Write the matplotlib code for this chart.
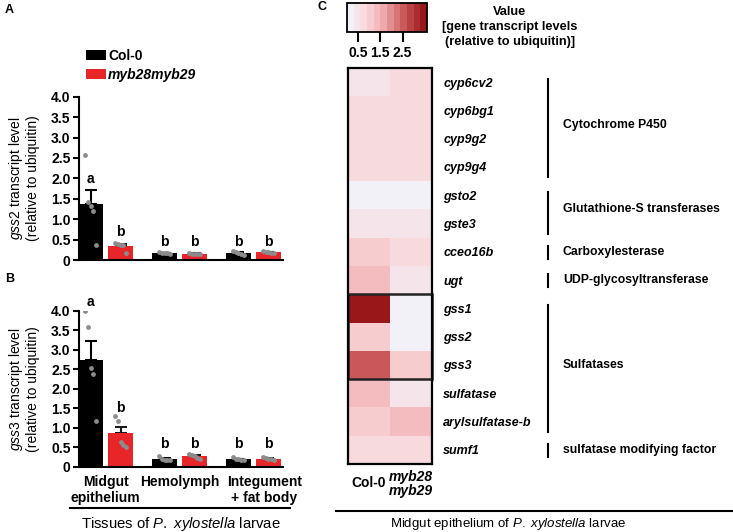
import numpy as np
import matplotlib
matplotlib.use('Agg')
import matplotlib.pyplot as plt
import matplotlib.transforms as mtransforms
from matplotlib.colors import LinearSegmentedColormap, ListedColormap
from matplotlib.lines import Line2D

plt.rcParams['font.family'] = ['Liberation Sans', 'DejaVu Sans']
plt.rcParams['mathtext.fontset'] = 'custom'
plt.rcParams['mathtext.rm'] = 'Liberation Sans'
plt.rcParams['mathtext.it'] = 'Liberation Sans:italic'
plt.rcParams['mathtext.bf'] = 'Liberation Sans:bold'

#%% data for panels A and B (bar charts)
tissues = ['Midgut\nepithelium', 'Hemolymph', 'Integument\n+ fat body']

gss2_col = [1.38, 0.17, 0.17]
gss2_myb = [0.34, 0.15, 0.19]
gss2_col_err = [0.34, 0.01, 0.02]
gss2_myb_err = [0.05, 0.01, 0.01]
gss2_col_pts = [[2.58, 1.42, 1.33, 1.19, 0.37], [0.19, 0.18, 0.17, 0.16, 0.15], [0.22, 0.19, 0.16, 0.15, 0.12]]
gss2_myb_pts = [[0.42, 0.38, 0.37, 0.36, 0.16], [0.16, 0.15, 0.15, 0.14, 0.15], [0.22, 0.20, 0.19, 0.18, 0.17]]
gss2_col_letters = ['a', 'b', 'b']
gss2_myb_letters = ['b', 'b', 'b']
gss2_col_letter_y = [1.98, 0.43, 0.43]
gss2_myb_letter_y = [0.69, 0.43, 0.43]

gss3_col = [2.74, 0.20, 0.20]
gss3_myb = [0.86, 0.27, 0.21]
gss3_col_err = [0.48, 0.02, 0.01]
gss3_myb_err = [0.15, 0.02, 0.01]
gss3_col_pts = [[3.99, 3.57, 2.54, 2.37, 1.18], [0.28, 0.20, 0.18, 0.16, 0.16], [0.24, 0.21, 0.19, 0.18, 0.18]]
gss3_myb_pts = [[1.30, 1.17, 0.64, 0.56, 0.51], [0.33, 0.31, 0.28, 0.23, 0.20], [0.25, 0.23, 0.21, 0.19, 0.18]]
gss3_col_letters = ['a', 'b', 'b']
gss3_myb_letters = ['b', 'b', 'b']
gss3_col_letter_y = [4.23, 0.58, 0.58]
gss3_myb_letter_y = [1.51, 0.58, 0.58]

#%% data for panel C (heatmap)
genes = ['cyp6cv2', 'cyp6bg1', 'cyp9g2', 'cyp9g4', 'gsto2', 'gste3', 'cceo16b', 'ugt',
         'gss1', 'gss2', 'gss3', 'sulfatase', 'arylsulfatase-b', 'sumf1']
heat_col = [0.5, 0.85, 0.85, 0.85, 0.05, 0.35, 1.1, 1.45, 3.5, 1.0, 2.6, 1.4, 1.05, 0.8]
heat_myb = [0.85, 0.85, 0.85, 0.85, 0.05, 0.35, 0.85, 0.4, 0.05, 0.05, 0.9, 0.4, 1.35, 0.8]
heat_cols = ['Col-0', 'myb28\nmyb29']
groups = [(0, 3, 'Cytochrome P450'), (4, 5, 'Glutathione-S transferases'),
          (6, 6, 'Carboxylesterase'), (7, 7, 'UDP-glycosyltransferase'),
          (8, 12, 'Sulfatases'), (13, 13, 'sulfatase modifying factor')]

W, H = 733, 532
fig = plt.figure(figsize=(W / 100, H / 100), dpi=100)


def px(x0, y0, x1, y1):
    # pixel box (top-left origin) -> figure fraction rect
    return [x0 / W, 1 - y1 / H, (x1 - x0) / W, (y1 - y0) / H]


def bar_panel(ax, col, myb, col_err, myb_err, col_pts, myb_pts,
              col_let, myb_let, col_ly, myb_ly, gene):
    x = np.arange(len(col))
    off, w = 0.2027, 0.338
    bc = ax.bar(x - off, col, w, color='black', label='Col-0', zorder=2)
    bm = ax.bar(x + off, myb, w, color='#e8262a', label='myb28myb29', zorder=2)
    ax.errorbar(x - off, col, yerr=[np.zeros(len(col)), col_err], fmt='none',
                ecolor='black', elinewidth=1.5, capsize=4.5, capthick=1.5, zorder=1)
    ax.errorbar(x + off, myb, yerr=[np.zeros(len(myb)), myb_err], fmt='none',
                ecolor='#1a1a1a', elinewidth=1.5, capsize=4.5, capthick=1.5, zorder=1)
    for i in range(len(col)):
        for xc, pts in ((x[i] - off, col_pts[i]), (x[i] + off, myb_pts[i])):
            jit = np.linspace(-0.07, 0.07, len(pts))
            ax.scatter(xc + jit, pts, s=12, color='#8c8c8c', linewidths=0, zorder=3)
        ax.text(x[i] - off, col_ly[i], col_let[i], ha='center', va='center',
                fontsize=10, fontweight='bold', clip_on=False)
        ax.text(x[i] + off, myb_ly[i], myb_let[i], ha='center', va='center',
                fontsize=10, fontweight='bold', clip_on=False)
    ax.set_xlim(-0.36, 2.40)
    ax.set_ylim(0, 4.0)
    ticks = np.arange(0, 4.01, 0.5)
    ax.set_yticks(ticks)
    ax.set_yticklabels(['0'] + ['%.1f' % t for t in ticks[1:]], fontweight='bold', fontsize=10)
    ax.set_xticks(x)
    for s in ['top', 'right']:
        ax.spines[s].set_visible(False)
    for s in ['left', 'bottom']:
        ax.spines[s].set_linewidth(1.5)
    ax.tick_params(axis='y', length=4, width=1.5, pad=2)
    ax.tick_params(axis='x', length=0, pad=6)
    ax.set_ylabel('$\\it{%s}$ transcript level\n(relative to ubiquitin)' % gene, fontsize=10,
                  linespacing=1.1)
    ax.yaxis.set_label_coords(-0.19, 0.5)
    return bc, bm


#%% panel A
axA = fig.add_axes(px(79, 96.7, 283, 260))
bc, bm = bar_panel(axA, gss2_col, gss2_myb, gss2_col_err, gss2_myb_err, gss2_col_pts, gss2_myb_pts,
                   gss2_col_letters, gss2_myb_letters, gss2_col_letter_y, gss2_myb_letter_y, 'gss2')
axA.set_xticklabels([])
leg = axA.legend(handles=[bc, bm], loc='upper left', bbox_to_anchor=(86 / W, 1 - 49 / H),
                 bbox_transform=fig.transFigure, frameon=False,
                 prop={'weight': 'bold', 'size': 10}, handlelength=1.45, handleheight=0.75,
                 handletextpad=0.15, labelspacing=0.35, borderaxespad=0, borderpad=0)
leg.get_texts()[1].set_style('italic')

#%% panel B
axB = fig.add_axes(px(79, 310.7, 283, 466.7))
bar_panel(axB, gss3_col, gss3_myb, gss3_col_err, gss3_myb_err, gss3_col_pts, gss3_myb_pts,
          gss3_col_letters, gss3_myb_letters, gss3_col_letter_y, gss3_myb_letter_y, 'gss3')
axB.set_xticklabels(tissues, fontweight='bold', fontsize=10, linespacing=1.15)
# last tissue label sits a little right of its bars in the original
lab = axB.get_xticklabels()[2]
lab.set_transform(lab.get_transform() + mtransforms.ScaledTranslation(11 / 100, 0, fig.dpi_scale_trans))

fig.add_artist(Line2D([70 / W, 290 / W], [1 - 508 / H, 1 - 508 / H], color='black', lw=1.5))
fig.text(181 / W, 1 - 524 / H, 'Tissues of $\\it{P.\\ xylostella}$ larvae', ha='center', va='center',
         fontsize=10.7)

#%% panel C heatmap
base = LinearSegmentedColormap.from_list('reds', [(0, '#f3f1f8'), (0.2, '#f8d8dc'), (0.42, '#f3b3b6'),
                                                  (0.72, '#cc5b5e'), (1, '#991619')])
cmap = ListedColormap(base(np.linspace(0, 1, 12)))

axC = fig.add_axes(px(347.5, 68, 432, 464))
M = np.column_stack([heat_col, heat_myb])
im = axC.imshow(M, cmap=cmap, vmin=0, vmax=3.6, aspect='auto', interpolation='nearest')
for s in axC.spines.values():
    s.set_linewidth(1.6)
axC.yaxis.tick_right()
axC.set_yticks(range(len(genes)))
axC.set_yticklabels(genes, fontstyle='italic', fontweight='bold', fontsize=9)
axC.set_xticks(range(2))
axC.set_xticklabels(heat_cols, fontweight='bold', fontsize=10, linespacing=1.0)
axC.get_xticklabels()[1].set_style('italic')
axC.get_xticklabels()[0].set_va('center')
axC.get_xticklabels()[0].set_y(-0.035)
axC.tick_params(axis='y', length=0, pad=8)
axC.tick_params(axis='x', length=0, pad=4)
axC.add_patch(plt.Rectangle((-0.5, 7.5), 2, 3, fill=False, lw=1.8, edgecolor='#222222', clip_on=False))

trans = mtransforms.blended_transform_factory(axC.transAxes, axC.transData)
for first, last, name in groups:
    if first == last:
        y0, y1 = first - 0.2, first + 0.25
    else:
        y0, y1 = first - 0.12, last + 0.36
    axC.plot([2.373, 2.373], [y0, y1], color='black', lw=1.5, transform=trans, clip_on=False)
    axC.text(2.55, (first + last) / 2, name, transform=trans, ha='left', va='center',
             fontsize=8.8, fontweight='bold')

# colorbar
cax = fig.add_axes(px(347, 3, 427, 32))
cb = fig.colorbar(im, cax=cax, orientation='horizontal', ticks=[0.5, 1.5, 2.5])
cb.outline.set_linewidth(1.3)
cax.tick_params(length=7, width=1.5, pad=3)
cax.set_xticklabels(['0.5', '1.5', '2.5'], fontweight='bold', fontsize=10)
fig.text(510 / W, 1 - 27 / H, 'Value\n[gene transcript levels\n(relative to ubiquitin)]',
         ha='center', va='center', fontsize=9.2, fontweight='bold', linespacing=1.3)

fig.add_artist(Line2D([336 / W, 733 / W], [1 - 511 / H, 1 - 511 / H], color='black', lw=1.5))
fig.text(508 / W, 1 - 524 / H, 'Midgut epithelium of $\\it{P.\\ xylostella}$ larvae', ha='center',
         va='center', fontsize=9.5)

# panel letters
fig.text(5 / W, 1 - 10 / H, 'A', fontsize=9, fontweight='bold', va='center')
fig.text(5 / W, 1 - 279 / H, 'B', fontsize=9, fontweight='bold', va='center')
fig.text(318 / W, 1 - 7 / H, 'C', fontsize=9, fontweight='bold', va='center')

fig.savefig('out.png', dpi=100)
